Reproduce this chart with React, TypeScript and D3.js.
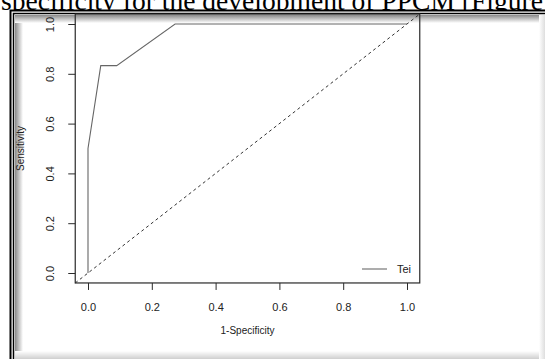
import React, { useEffect, useRef } from "react";
import * as d3 from "d3";

// ROC curve points (1-specificity, sensitivity)
const fpr = [0, 0, 0.04, 0.09, 0.273, 1];
const tpr = [0, 0.5, 0.833, 0.833, 1, 1];
const tickValues = [0, 0.2, 0.4, 0.6, 0.8, 1.0];
const seriesName = "Tei";
const captionText = "specificity for the development of PPCM [Figure";

const App = () => {
  const svgRef = useRef<SVGSVGElement>(null);

  useEffect(() => {
    const width = 545;
    const height = 359;
    const svg = d3.select(svgRef.current);
    svg.selectAll("*").remove();
    svg.attr("width", width).attr("height", height);

    const defs = svg.append("defs");
    const grad = (id, x1, y1, x2, y2, from, to) => {
      const g = defs.append("linearGradient").attr("id", id)
        .attr("x1", x1).attr("y1", y1).attr("x2", x2).attr("y2", y2);
      g.append("stop").attr("offset", "0%").attr("stop-color", from);
      g.append("stop").attr("offset", "100%").attr("stop-color", to);
    };
    grad("shL", 0, 0, 1, 0, "#8a8a8a", "#ffffff");
    grad("shT", 0, 0, 0, 1, "#8a8a8a", "#ffffff");
    grad("shB", 0, 0, 0, 1, "#ffffff", "#cfcfcf");
    grad("shR", 0, 0, 1, 0, "#ffffff", "#dedede");

    // page caption cut off at the top
    svg.append("text")
      .attr("x", 1)
      .attr("y", 10)
      .attr("textLength", 542)
      .attr("lengthAdjust", "spacingAndGlyphs")
      .style("font-family", "Liberation Serif, Times New Roman, serif")
      .style("font-size", "27px")
      .attr("fill", "#000")
      .text(captionText);

    // screenshot frame with inner shadow
    svg.append("rect").attr("x", 10).attr("y", 10).attr("width", 540).attr("height", 360).attr("fill", "#fff");
    svg.append("rect").attr("x", 15).attr("y", 15).attr("width", 8).attr("height", 345).attr("fill", "url(#shL)");
    svg.append("rect").attr("x", 15).attr("y", 15).attr("width", 535).attr("height", 8).attr("fill", "url(#shT)");
    svg.append("rect").attr("x", 15).attr("y", 351).attr("width", 535).attr("height", 8).attr("fill", "url(#shB)");
    svg.append("rect").attr("x", 539).attr("y", 15).attr("width", 6).attr("height", 345).attr("fill", "url(#shR)");
    svg.append("path").attr("d", "M10.5,360V10.5H545").attr("fill", "none").attr("stroke", "#000").attr("stroke-width", 2);
    svg.append("path").attr("d", "M13.5,360V13.5H545").attr("fill", "none").attr("stroke", "#000").attr("stroke-width", 1.5);

    // plot scales (R style 4% padding)
    const xScale = d3.scaleLinear().domain([0, 1]).range([88, 407]);
    const yScale = d3.scaleLinear().domain([0, 1]).range([273, 24]);
    const x0 = xScale(-0.04), x1 = xScale(1.04);
    const y0 = yScale(-0.04), y1 = yScale(1.04);

    const font = "Liberation Sans, Arial, Helvetica, sans-serif";
    const ink = "#2a2a2a";

    // diagonal reference line
    svg.append("line")
      .attr("x1", x0).attr("y1", y0)
      .attr("x2", x1).attr("y2", y1)
      .attr("stroke", "#333")
      .attr("stroke-width", 1)
      .attr("stroke-dasharray", "3,3");

    // ROC curve
    const line = d3.line<number>()
      .x((d, i) => xScale(fpr[i]))
      .y(d => yScale(d));
    svg.append("path")
      .datum(tpr)
      .attr("d", line)
      .attr("fill", "none")
      .attr("stroke", "#666")
      .attr("stroke-width", 1.1);

    // box
    svg.append("rect")
      .attr("x", x0).attr("y", y1)
      .attr("width", x1 - x0).attr("height", y0 - y1)
      .attr("fill", "none")
      .attr("stroke", ink)
      .attr("stroke-width", 1.2);

    // X axis
    const xAxis = svg.append("g")
      .attr("transform", `translate(0,${y0})`)
      .call(d3.axisBottom(xScale).tickValues(tickValues).tickSize(7).tickPadding(13).tickFormat(d3.format(".1f")));
    xAxis.select(".domain").remove();
    xAxis.selectAll("line").attr("stroke", ink);
    xAxis.selectAll("text").attr("fill", "#222").style("font-family", font).style("font-size", "11px");

    // Y axis
    const yAxis = svg.append("g")
      .attr("transform", `translate(${x0},0)`)
      .call(d3.axisLeft(yScale).tickValues(tickValues).tickSize(7).tickFormat(d3.format(".1f")));
    yAxis.select(".domain").remove();
    yAxis.selectAll("line").attr("stroke", ink);
    yAxis.selectAll("text")
      .attr("x", null).attr("dy", null)
      .attr("text-anchor", "middle")
      .attr("transform", "translate(-25,0) rotate(-90) translate(0,4)")
      .attr("fill", "#222")
      .style("font-family", font)
      .style("font-size", "11px");

    // axis titles
    svg.append("text")
      .attr("x", (x0 + x1) / 2)
      .attr("y", 334)
      .attr("text-anchor", "middle")
      .style("font-family", font)
      .style("font-size", "10px")
      .attr("fill", "#222")
      .text("1-Specificity");

    svg.append("text")
      .attr("transform", `translate(24,${(y0 + y1) / 2}) rotate(-90)`)
      .attr("text-anchor", "middle")
      .style("font-family", font)
      .style("font-size", "10px")
      .attr("fill", "#222")
      .text("Sensitivity");

    // legend
    svg.append("line")
      .attr("x1", 362).attr("x2", 387)
      .attr("y1", 269).attr("y2", 269)
      .attr("stroke", "#777")
      .attr("stroke-width", 1.2);
    svg.append("text")
      .attr("x", 397)
      .attr("y", 273)
      .style("font-family", font)
      .style("font-size", "11px")
      .attr("fill", "#222")
      .text(seriesName);
  }, []);

  return (
    <div style={{ position: "absolute", left: 0, top: 0 }}>
      <svg ref={svgRef} style={{ display: "block" }}></svg>
    </div>
  );
};

export default App;
